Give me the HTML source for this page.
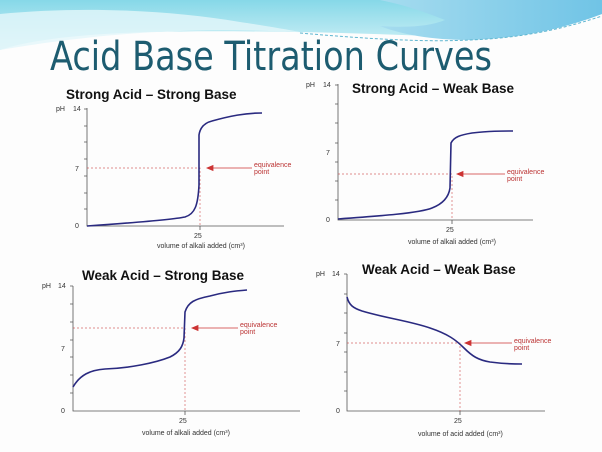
<!DOCTYPE html>
<html><head><meta charset="utf-8"><style>
html,body{margin:0;padding:0;background:#fff}
svg{display:block}
.t{font-family:"Liberation Sans",sans-serif}
</style></head><body>
<svg width="602" height="452" viewBox="0 0 602 452" xmlns="http://www.w3.org/2000/svg">
<defs>
<linearGradient id="g1" x1="0" y1="0" x2="0" y2="1"><stop offset="0" stop-color="#86d8e8"/><stop offset="1" stop-color="#d4f2f7"/></linearGradient>
<linearGradient id="g2" x1="0" y1="0" x2="1" y2="0"><stop offset="0" stop-color="#a6dcef"/><stop offset="1" stop-color="#70c4e6"/></linearGradient>
</defs>
<rect width="602" height="452" fill="#fdfdfd"/>
<path d="M0 0 H602 V14 C540 32 480 38 430 36 C330 32 220 30 150 32 C80 34 30 40 0 50 Z" fill="url(#g1)"/>
<path d="M0 14 C80 6 170 10 240 22 C280 28 300 32 300 32 C200 28 120 30 0 50 Z" fill="#e4f6fa" opacity="0.8"/>
<path d="M380 0 H602 V14 C560 30 520 38 470 40 C430 40 400 34 380 26 C410 28 430 26 445 20 C420 10 400 4 380 0 Z" fill="url(#g2)"/>
<path d="M300 33 C380 40 430 42 470 40 C520 38 560 30 602 16" stroke="#5fb6d0" stroke-width="1" fill="none" stroke-dasharray="3 2"/>
<text x="50" y="70" font-size="40" fill="#1d5c70" textLength="442" lengthAdjust="spacingAndGlyphs" style="font-family:'DejaVu Sans','Liberation Sans',sans-serif">Acid Base Titration Curves</text>

<g class="t" font-weight="bold" font-size="13.5" fill="#111">
<text x="66" y="99">Strong Acid – Strong Base</text>
<text x="352" y="93">Strong Acid – Weak Base</text>
<text x="82" y="280">Weak Acid – Strong Base</text>
<text x="362" y="274">Weak Acid – Weak Base</text>
</g>

<g stroke="#555" stroke-width="0.8" fill="none">
<path d="M87 108 V226 H284"/>
<path d="M338 84 V220 H533"/>
<path d="M73 286 V411 H300"/>
<path d="M347 274 V411 H545"/>
</g>
<g stroke="#555" stroke-width="0.8">
<path d="M84 109h3M84 126h3M84 142h3M84 159h3M84 176h3M84 193h3M84 209h3M200 226v4"/>
<path d="M335 85h3M335 104h3M335 123h3M335 143h3M335 162h3M335 181h3M335 200h3M452 220v4"/>
<path d="M70 286h3M70 304h3M70 322h3M70 340h3M70 357h3M70 375h3M70 393h3M185 411v4"/>
<path d="M344 274h3M344 294h3M344 313h3M344 333h3M344 352h3M344 372h3M344 391h3M460 411v4"/>
</g>

<g stroke="#c44" stroke-width="0.7" stroke-dasharray="2 2" fill="none" opacity="0.8">
<path d="M87 168H200V226"/>
<path d="M338 174H452V220"/>
<path d="M73 328H185V411"/>
<path d="M347 343H460V411"/>
</g>
<g stroke="#c33" stroke-width="0.8" fill="#c33">
<path d="M252 168H210"/><path d="M207 168l6-2.5v5z"/>
<path d="M505 174H460"/><path d="M457 174l6-2.5v5z"/>
<path d="M238 328H195"/><path d="M192 328l6-2.5v5z"/>
<path d="M512 343H468"/><path d="M465 343l6-2.5v5z"/>
</g>
<g class="t" font-size="7" fill="#b33">
<text x="254" y="167">equivalence</text><text x="254" y="174">point</text>
<text x="507" y="174">equivalence</text><text x="507" y="181">point</text>
<text x="240" y="327">equivalence</text><text x="240" y="334">point</text>
<text x="514" y="343">equivalence</text><text x="514" y="350">point</text>
</g>

<g class="t" font-size="7" fill="#333">
<text x="56" y="111">pH</text><text x="73" y="111">14</text><text x="75" y="171">7</text><text x="75" y="228">0</text>
<text x="194" y="238">25</text><text x="157" y="248">volume of alkali added (cm³)</text>
<text x="306" y="87">pH</text><text x="323" y="87">14</text><text x="326" y="155">7</text><text x="326" y="222">0</text>
<text x="446" y="232">25</text><text x="408" y="244">volume of alkali added (cm³)</text>
<text x="42" y="288">pH</text><text x="58" y="288">14</text><text x="61" y="351">7</text><text x="61" y="413">0</text>
<text x="179" y="423">25</text><text x="142" y="435">volume of alkali added (cm³)</text>
<text x="316" y="276">pH</text><text x="332" y="276">14</text><text x="336" y="346">7</text><text x="336" y="413">0</text>
<text x="454" y="423">25</text><text x="418" y="436">volume of acid added (cm³)</text>
</g>

<g stroke="#2a2a80" stroke-width="1.6" fill="none">
<path d="M87 226 C130 223 170 220 185 217 C195 214 198 205 199 185 L199 135 C200 128 204 123 212 121 C230 116 245 113 262 113"/>
<path d="M338 219 C380 216 420 213 432 208 C445 203 449 195 450 188 L451 143 C454 137 460 135 472 133 C490 131 500 131 513 131"/>
<path d="M73 387 C80 375 90 370 105 369 C130 368 155 363 170 357 C180 352 183 346 184 338 L185 312 C188 302 195 299 210 296 C225 292 235 291 247 290"/>
<path d="M347 297 C349 305 353 308 362 311 C385 318 410 321 430 328 C448 334 456 340 464 348 C472 356 478 360 490 362 C505 364 515 364 522 364"/>
</g>
</svg>
</body></html>
